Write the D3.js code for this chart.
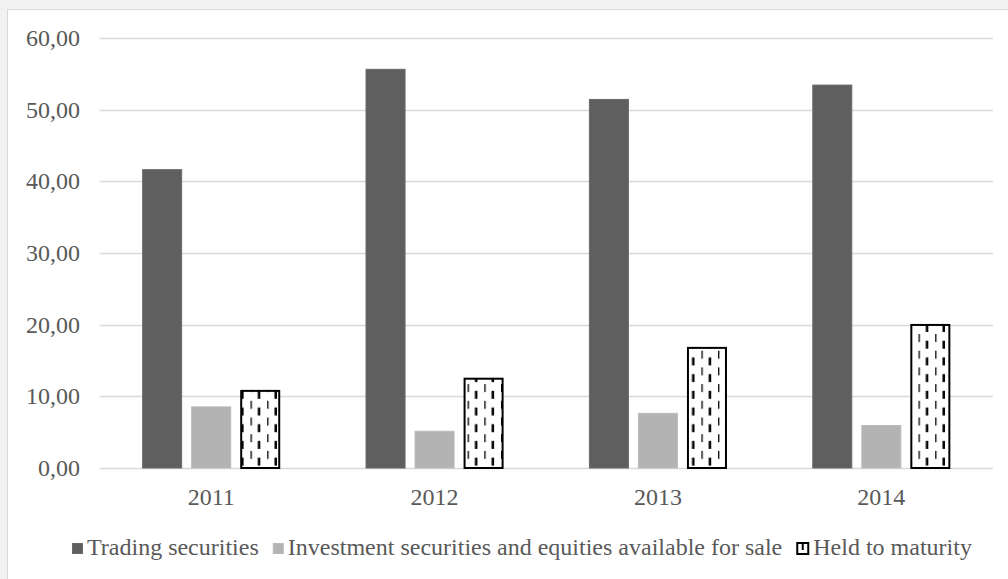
<!DOCTYPE html>
<html>
<head>
<meta charset="utf-8">
<script src="https://cdn.jsdelivr.net/npm/d3@7"></script>
<style>
  html, body { margin: 0; padding: 0; background: #f2f2f2; }
  svg { display: block; }
  text { font-family: "Liberation Serif", "Times New Roman", serif; fill: #595959; }
</style>
</head>
<body>
<div id="chart"></div>
<script>
const years = ['2011', '2012', '2013', '2014'];
const seriesNames = ['Trading securities', 'Investment securities and equities available for sale', 'Held to maturity'];
const trading = [41.7, 55.7, 51.5, 53.5];
const available = [8.6, 5.2, 7.7, 6.0];
const held = [10.9, 12.6, 16.9, 20.1];
const yTicks = [0, 10, 20, 30, 40, 50, 60];

const width = 1008, height = 579;
const fontSize = '24px';
const svg = d3.select('#chart').append('svg').attr('width', width).attr('height', height);

// pattern for held to maturity
const defs = svg.append('defs');
const pat = defs.append('pattern').attr('id', 'dash-v')
  .attr('patternUnits', 'userSpaceOnUse')
  .attr('width', 16.7).attr('height', 16.7);
pat.append('rect').attr('width', 16.7).attr('height', 16.7).attr('fill', '#fff');
pat.append('rect').attr('x', 0).attr('y', 0).attr('width', 1.3).attr('height', 8).attr('fill', '#000');
pat.append('rect').attr('x', 7.3).attr('y', 6.7).attr('width', 2.5).attr('height', 8).attr('fill', '#000');
pat.append('rect').attr('x', 7.3).attr('y', -10).attr('width', 2.5).attr('height', 8).attr('fill', '#000');

// chart panel
svg.append('rect').attr('x', 7.5).attr('y', 9.5).attr('width', 1100).attr('height', 700)
  .attr('fill', '#fff').attr('stroke', '#d9d9d9');

const x0 = d3.scaleBand().domain(years).range([99.5, 993]);
const x1 = d3.scaleBand().domain(seriesNames).range([0, x0.bandwidth()])
  .paddingInner(0.1837).paddingOuter(0.87);
const y = d3.scaleLinear().domain([0, 60]).range([468, 38]);

// grid
svg.append('g').selectAll('line').data(yTicks).join('line')
  .attr('x1', 99.5).attr('x2', 993)
  .attr('y1', d => Math.round(y(d)) + 0.5).attr('y2', d => Math.round(y(d)) + 0.5)
  .attr('stroke', '#d9d9d9').attr('stroke-width', 1.5);

// y labels
svg.append('g').selectAll('text').data(yTicks).join('text')
  .attr('x', 80).attr('y', d => y(d) + 8)
  .attr('text-anchor', 'end').style('font-size', fontSize)
  .text(d => d.toFixed(2).replace('.', ','));

// x labels
svg.append('g').selectAll('text').data(years).join('text')
  .attr('x', d => x0(d) + x0.bandwidth() / 2).attr('y', 505)
  .attr('text-anchor', 'middle').style('font-size', fontSize)
  .text(d => d);

const series = [
  { name: seriesNames[0], values: trading, fill: '#5f5f5f', stroke: '#6a6a6a', sw: 1 },
  { name: seriesNames[1], values: available, fill: '#b3b3b3', stroke: '#bbbbbb', sw: 1 },
  { name: seriesNames[2], values: held, fill: 'url(#dash-v)', stroke: '#000', sw: 2 }
];

series.forEach(s => {
  svg.append('g').selectAll('rect').data(years).join('rect')
    .attr('x', (d, i) => x0(d) + x1(s.name) + s.sw / 2)
    .attr('y', (d, i) => y(s.values[i]) + s.sw / 2)
    .attr('width', x1.bandwidth() - s.sw)
    .attr('height', (d, i) => y(0) - y(s.values[i]) - s.sw / 2)
    .attr('fill', s.fill).attr('stroke', s.stroke).attr('stroke-width', s.sw);
});

// legend
const leg = svg.append('g');
let lx = 72;
series.forEach((s, i) => {
  const box = i === 2 ? 13 : 11;
  const by = i === 2 ? 542 : 543;
  const r = leg.append('rect').attr('x', lx + s.sw / 2).attr('y', by + s.sw / 2)
    .attr('width', box - s.sw).attr('height', box - s.sw)
    .attr('fill', i === 2 ? '#fff' : s.fill).attr('stroke', s.stroke).attr('stroke-width', s.sw);
  if (i === 2) {
    // small "U" inner mark, like the reference icon
    leg.append('rect').attr('x', lx + 5.5).attr('y', by + 2).attr('width', 2).attr('height', 6).attr('fill', '#000');
  }
  const t = leg.append('text').attr('x', lx + box + 4).attr('y', 555)
    .style('font-size', fontSize).text(s.name);
  lx += box + 4 + t.node().getComputedTextLength() + 14;
});
</script>
</body>
</html>
